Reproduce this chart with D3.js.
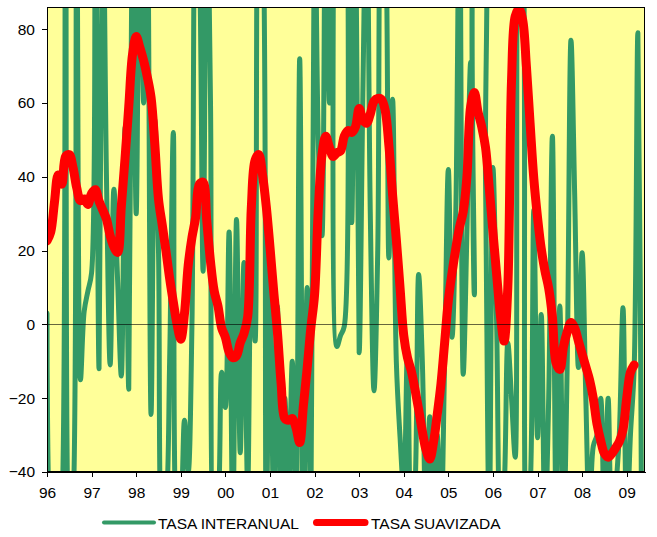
<!DOCTYPE html>
<html>
<head>
<meta charset="utf-8">
<script src="https://cdn.jsdelivr.net/npm/d3@7"></script>
<style>
  html, body { margin: 0; padding: 0; background: #fff; }
  #chart svg { display: block; }
</style>
</head>
<body>
<div id="chart"></div>
<script>
// monthly data, starting Jan 1996
let startYear = 1996;
let yearLabels = ["96","97","98","99","00","01","02","03","04","05","06","07","08","09"];
let yTicks = [-40, -20, 0, 20, 40, 60, 80];
let seriesNames = ["TASA INTERANUAL", "TASA SUAVIZADA"];
let seriesColors = ["#339966", "#ff0000"];
let fontFamily = "'Liberation Sans', Arial, sans-serif";

// values beyond the axis range are cut off by the plot area
let interanual = [
  3, -55, -50, -60, -50, 120, -60, -50, 110, -15,
  3.5, 9, 14, 115, -12, 120, 40, -11, 36.6, 12,
  -14, 53.5, -17.6, 120, 30, 120, 60, 110, -24.4, 55.6,
  20, -55, -50, -10, 52, -55, -50, -26, -40, -0.5,
  120, 100, 14.4, 120, 60, -55, -50, -13, -22.5, 25,
  -55, 28.4, -34.8, 16.8, -45, 20, -4.5, 120, 110, -55,
  15, -50, 5, -55, -20, -45, -10, -55, 72, -55,
  10, -55, 120, 50, 24, 120, 60, 120, -6, -3,
  -0.5, 120, 27.6, 120, -7.7, 62.5, 120, 30, -18, 20,
  120, 110, 18, 61, -10, -30.5, -45, -7, -55, -45,
  13.5, -10, -55, -25, -55, -30, -55, -10, 42, -3.5,
  30, 120, -13.5, 25, 71, 8, 120, 120, 40, -55,
  42.5, 0, -55, -45, -5, -20, -36, 120, 110, -55,
  -45, 31, -30.7, 2.7, -55, -20, 51, -50, 5, -55,
  -10, 77, 35, -11.7, 19.4, -20, -55, -33, -30, -20,
  -55, -20, -55, -45, -30, 4.5, -55, -30, -12, 79,
  -55
];

let suavizada = [
  22.6, 25, 33, 40.5, 38, 45.5, 46, 42.5, 37, 33.5,
  34, 32.5, 35.5, 36.5, 33.4, 31, 28.5, 24, 21, 19.5,
  32, 45, 59, 73, 78, 75, 71.5, 67, 61.5, 49,
  34, 27, 20, 12.5, 6, 0, -4, 3, 16, 23.5,
  29, 38, 38.5, 28, 17, 9, 5, -1, -3.5, -7.5,
  -9, -8.5, -5, -2.5, 2, 32, 44.5, 46, 40.5, 32,
  21, 9, -2, -16, -25.5, -26, -25.5, -28, -32, -22,
  -12, -1, 8, 31, 46, 51, 48, 45.5, 46.5, 47,
  51, 52.5, 52, 53.5, 58.5, 55.5, 54.5, 57, 60.5, 61.2,
  61, 58, 48.5, 35, 23, 10, -3, -9, -12.5, -17.5,
  -23, -29, -34, -36.5, -32, -24.5, -16.3, -5, 6.5, 14,
  20.5, 26.3, 30.5, 40, 59, 62.8, 57.5, 53.5, 48, 37,
  25, 13.5, 2.5, -4.5, 10, 66, 83.5, 85.5, 82.5, 70,
  54.5, 39.5, 29, 20.5, 14.5, 9.8, 2, -10.5, -12.2, -6,
  -2, 0.5, -1, -4.5, -8, -11.5, -15, -20, -27, -31.5,
  -35, -36, -35, -33.5, -31.8, -28.5, -20, -13, -11
];

let width = 657, height = 537;
let margin = {top: 7, right: 12, bottom: 65, left: 47};
let innerWidth = width - margin.left - margin.right;
let innerHeight = height - margin.top - margin.bottom;

let svg = d3.select("#chart")
  .append("svg")
  .attr("width", width)
  .attr("height", height)
  .attr("viewBox", "0 0 " + width + " " + height);

// clip region for the series, in page coordinates
svg.append("defs")
  .append("clipPath")
  .attr("id", "plotClip")
  .attr("clipPathUnits", "userSpaceOnUse")
  .append("rect")
  .attr("x", margin.left)
  .attr("y", margin.top)
  .attr("width", innerWidth)
  .attr("height", innerHeight);

let x = d3.scaleLinear()
  .domain([startYear, startYear + 13.41])
  .range([margin.left, margin.left + innerWidth]);

let y = d3.scaleLinear()
  .domain([-40, 86])
  .range([margin.top + innerHeight, margin.top]);

// plot background
svg.append("rect")
  .attr("x", margin.left)
  .attr("y", margin.top)
  .attr("width", innerWidth)
  .attr("height", innerHeight)
  .attr("fill", "#ffff99");

let line = d3.line()
  .x(function(d, i) { return x(startYear + i / 12); })
  .y(function(d) { return y(d); })
  .curve(d3.curveCatmullRom.alpha(0.5));

let plot = svg.append("g").attr("clip-path", "url(#plotClip)");

plot.append("path")
  .datum(interanual)
  .attr("fill", "none")
  .attr("stroke", seriesColors[0])
  .attr("stroke-width", 5)
  .attr("stroke-linejoin", "round")
  .attr("stroke-linecap", "round")
  .attr("d", line);

plot.append("path")
  .datum(suavizada)
  .attr("fill", "none")
  .attr("stroke", seriesColors[1])
  .attr("stroke-width", 9)
  .attr("stroke-linejoin", "round")
  .attr("stroke-linecap", "round")
  .attr("d", line);

// zero line
svg.append("line")
  .attr("x1", margin.left)
  .attr("x2", margin.left + innerWidth)
  .attr("y1", Math.round(y(0)) + 0.5)
  .attr("y2", Math.round(y(0)) + 0.5)
  .attr("stroke", "#000")
  .attr("stroke-opacity", 0.6);

// frame (top and right)
svg.append("rect")
  .attr("x", margin.left + 0.5)
  .attr("y", margin.top + 0.5)
  .attr("width", innerWidth - 1)
  .attr("height", innerHeight - 1)
  .attr("fill", "none")
  .attr("stroke", "#000")
  .attr("shape-rendering", "crispEdges");

// axes
let xAxis = svg.append("g")
  .attr("transform", "translate(0," + (margin.top + innerHeight) + ")")
  .call(d3.axisBottom(x)
    .tickValues(yearLabels.map(function(d, i) { return startYear + i; }))
    .tickFormat(function(d, i) { return yearLabels[i]; })
    .tickSize(5)
    .tickSizeOuter(0)
    .tickPadding(10));

let yAxis = svg.append("g")
  .attr("transform", "translate(" + margin.left + ",0)")
  .call(d3.axisLeft(y)
    .tickValues(yTicks)
    .tickSize(5)
    .tickSizeOuter(0)
    .tickPadding(7));

[xAxis, yAxis].forEach(function(ax) {
  ax.attr("font-size", 15.5).attr("font-family", fontFamily);
  ax.selectAll("text").attr("fill", "#000");
  ax.selectAll("line, path").attr("stroke", "#000").attr("shape-rendering", "crispEdges");
});

// legend
let legendItems = [
  {x1: 104, x2: 154, tx: 158, w: 4},
  {x1: 316.5, x2: 365, tx: 371, w: 7}
];

let legend = svg.append("g")
  .attr("font-size", 15.5)
  .attr("font-family", fontFamily);

legend.selectAll("line")
  .data(seriesNames)
  .join("line")
  .attr("x1", function(d, i) { return legendItems[i].x1; })
  .attr("x2", function(d, i) { return legendItems[i].x2; })
  .attr("y1", 522.5)
  .attr("y2", 522.5)
  .attr("stroke", function(d, i) { return seriesColors[i]; })
  .attr("stroke-width", function(d, i) { return legendItems[i].w; })
  .attr("stroke-linecap", "round");

legend.selectAll("text")
  .data(seriesNames)
  .join("text")
  .attr("x", function(d, i) { return legendItems[i].tx; })
  .attr("y", 528.5)
  .attr("fill", "#000")
  .text(function(d) { return d; });
</script>
</body>
</html>
